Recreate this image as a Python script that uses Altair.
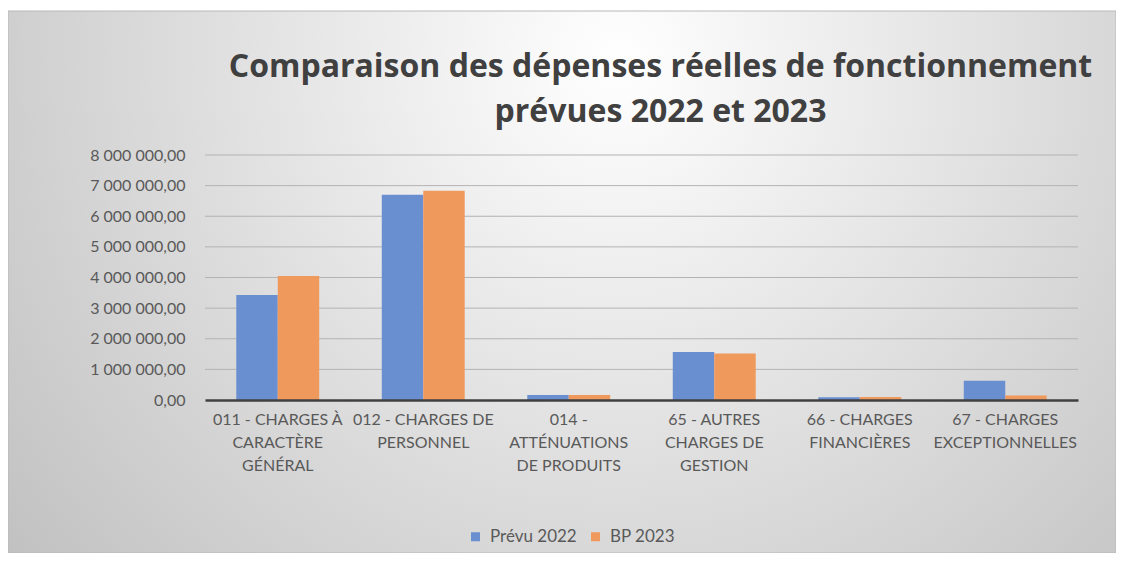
import altair as alt
import pandas as pd

categories = [
    "011 - CHARGES À\nCARACTÈRE\nGÉNÉRAL",
    "012 - CHARGES DE\nPERSONNEL",
    "014 -\nATTÉNUATIONS\nDE PRODUITS",
    "65 - AUTRES\nCHARGES DE\nGESTION",
    "66 - CHARGES\nFINANCIÈRES",
    "67 - CHARGES\nEXCEPTIONNELLES",
]
series = ["Prévu 2022", "BP 2023"]
prevu_2022 = [3430000, 6700000, 160000, 1570000, 90000, 630000]
bp_2023 = [4050000, 6830000, 160000, 1520000, 100000, 150000]
y_ticks = [0, 1000000, 2000000, 3000000, 4000000, 5000000, 6000000, 7000000, 8000000]
colors = ["#6a8fd0", "#f0995c"]
title_lines = ["Comparaison des dépenses réelles de fonctionnement", "prévues 2022 et 2023"]

rows = []
for c, a, b in zip(categories, prevu_2022, bp_2023):
    rows.append({"cat": c, "serie": series[0], "val": a})
    rows.append({"cat": c, "serie": series[1], "val": b})
df = pd.DataFrame(rows)
grid_df = pd.DataFrame({"val": y_ticks[1:]})

W, H = 873, 245
PAD = {"left": 197, "top": 147, "right": 38, "bottom": 153}

bg = alt.Chart(pd.DataFrame({"a": [0]})).mark_rect(
    fill=alt.Gradient(
        gradient="radial",
        stops=[alt.GradientStop(offset=0, color="#ffffff"),
               alt.GradientStop(offset=1, color="#c0c0c0")],
        x1=0.55, y1=0.3, r1=0, x2=0.55, y2=0.3, r2=0.72,
    ),
    stroke="#b8b8b8", strokeWidth=1,
).encode(
    x=alt.value(-197), x2=alt.value(W + 38), y=alt.value(-144), y2=alt.value(H + 153)
)

yscale = alt.Scale(domain=[0, 8000000])
yaxis = alt.Axis(values=y_ticks, grid=False, domain=False, ticks=False,
                 labelFont="Lato", labelFontSize=16, labelColor="#595959",
                 labelPadding=20, zindex=1, labelOverlap=False,
                 labelExpr="replace(replace(format(datum.value, ',.2f'), regexp(',', 'g'), ' '), '.', ',')")

grid = alt.Chart(grid_df).mark_rule(color="#b3b3b3", strokeWidth=1).encode(
    y=alt.Y("val:Q", scale=yscale, title=None, axis=yaxis)
)

bars = alt.Chart(df).mark_bar().encode(
    x=alt.X("cat:N", sort=categories, title=None,
            scale=alt.Scale(paddingInner=0.43, paddingOuter=0.215),
            axis=alt.Axis(labelAngle=0, labelExpr="split(datum.label, '\\n')",
                          labelFont="Lato", labelFontSize=16, labelColor="#595959",
                          labelLineHeight=23, labelPadding=11, labelBaseline="top",
                          labelLimit=0, ticks=False, domainColor="#404040",
                          domainWidth=2.5, zindex=1, grid=False)),
    xOffset=alt.XOffset("serie:N", sort=series),
    y=alt.Y("val:Q", scale=yscale, title=None, axis=yaxis),
    color=alt.Color("serie:N", sort=series,
                    scale=alt.Scale(domain=series, range=colors),
                    legend=alt.Legend(title=None, orient="none", direction="horizontal",
                                      legendX=262, legendY=373, symbolType="square",
                                      symbolSize=81, symbolStrokeWidth=0,
                                      labelFont="Lato", labelFontSize=17,
                                      labelColor="#595959", labelOffset=6,
                                      columnPadding=10, zindex=1)),
)

chart = alt.layer(bg, grid, bars).properties(
    width=W, height=H,
    autosize=alt.AutoSizeParams(type="none"),
    padding=PAD,
    background="#ffffff",
    title=alt.TitleParams(text=title_lines, font="Open Sans", fontSize=32, fontWeight="bold",
                          color="#404040", anchor="middle", dx=19, offset=-118,
                          lineHeight=45, zindex=1),
).configure_view(stroke=None)

chart.save("out.html", embed_options={"renderer": "svg", "actions": False})
